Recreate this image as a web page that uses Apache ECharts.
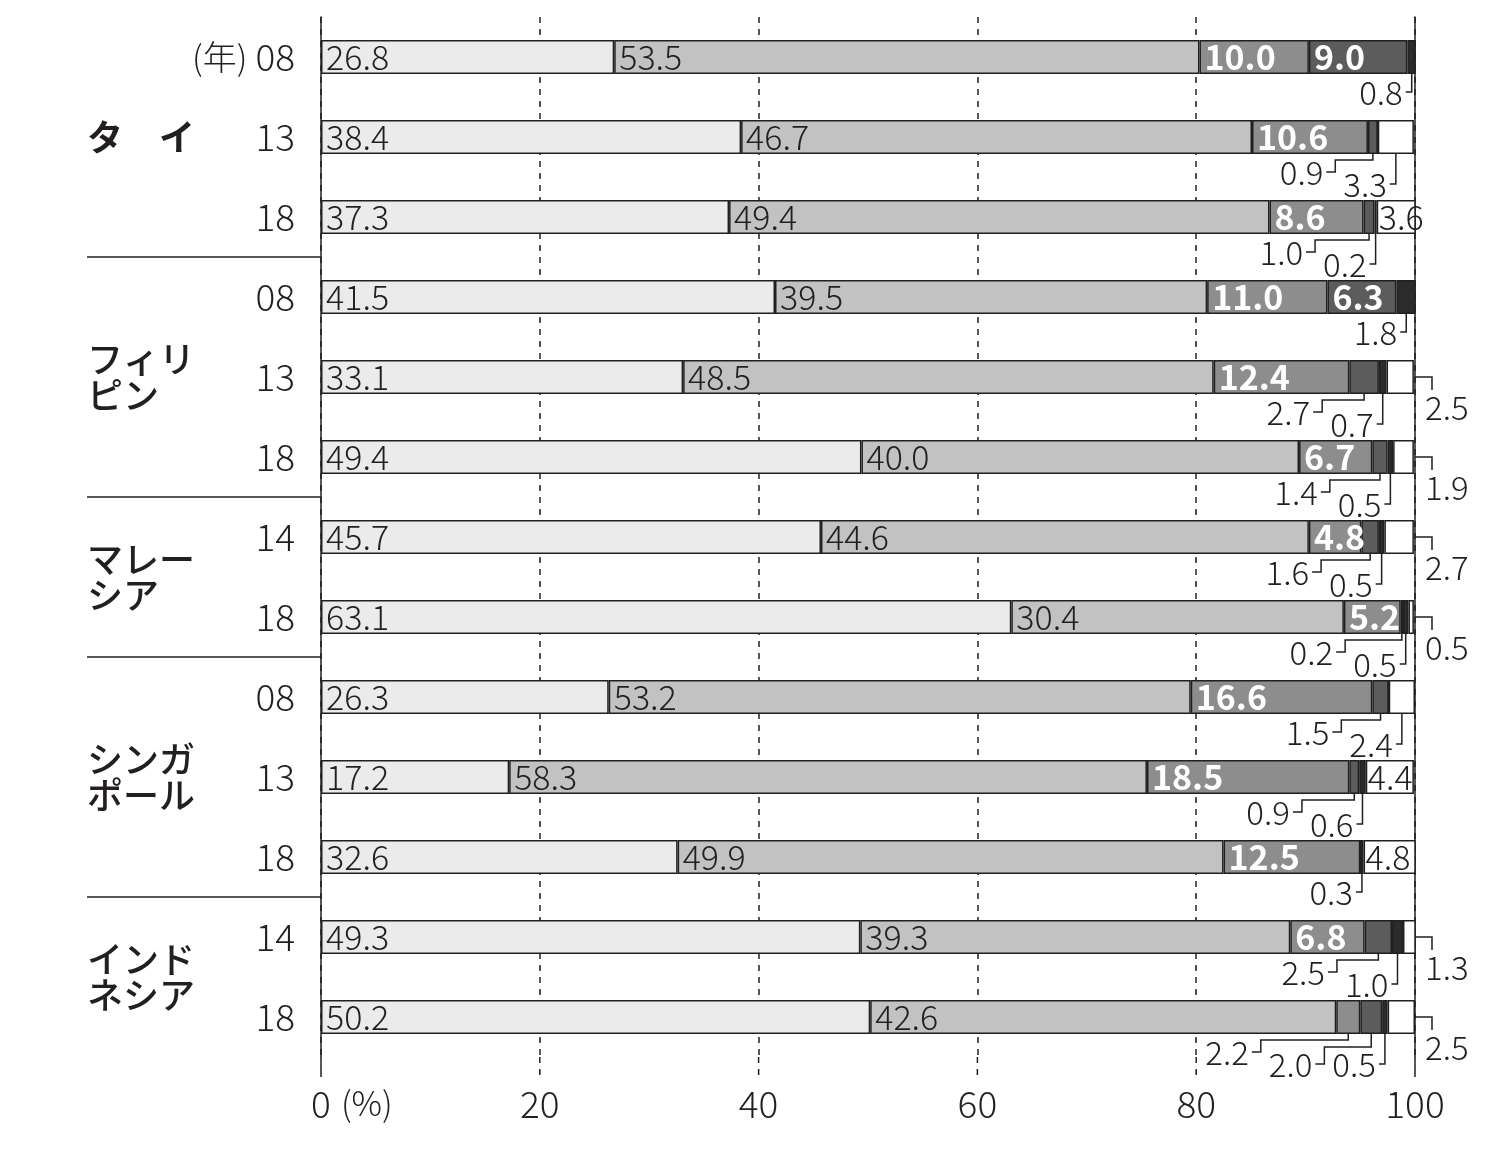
<!DOCTYPE html>
<html>
<head>
<meta charset="utf-8">
<script src="https://cdn.jsdelivr.net/npm/echarts@6/dist/echarts.min.js"></script>
<style>
html, body { margin: 0; padding: 0; background: #fff; }
#chart { width: 1500px; height: 1176px; }
</style>
</head>
<body>
<div id="chart"></div>
<script>
// 年（各行）と国グループ
var years = ['08', '13', '18', '08', '13', '18', '14', '18', '08', '13', '18', '14', '18'];
var countries = ['タ　イ', 'フィリ\nピン', 'マレー\nシア', 'シンガ\nポール', 'インド\nネシア'];
var countryRows = [[0, 2], [3, 5], [6, 7], [8, 10], [11, 12]];

// 構成比 (%)、左から順に積み上げ
var seg1 = [26.8, 38.4, 37.3, 41.5, 33.1, 49.4, 45.7, 63.1, 26.3, 17.2, 32.6, 49.3, 50.2];
var seg2 = [53.5, 46.7, 49.4, 39.5, 48.5, 40.0, 44.6, 30.4, 53.2, 58.3, 49.9, 39.3, 42.6];
var seg3 = [10.0, 10.6, 8.6, 11.0, 12.4, 6.7, 4.8, 5.2, 16.6, 18.5, 12.5, 6.8, 2.2];
var seg4 = [9.0, 0.9, 1.0, 6.3, 2.7, 1.4, 1.6, 0.2, 1.5, 0.9, 0, 2.5, 2.0];
var seg5 = [0.8, 0, 0.2, 1.8, 0.7, 0.5, 0.5, 0.5, 0, 0.6, 0.3, 1.0, 0.5];
var seg6 = [0, 3.3, 3.6, 0, 2.5, 1.9, 2.7, 0.5, 2.4, 4.4, 4.8, 1.3, 2.5];

var xTicks = [0, 20, 40, 60, 80, 100];

var segments = [seg1, seg2, seg3, seg4, seg5, seg6];
var colors = ['#ebebeb', '#c2c2c2', '#8d8d8d', '#5c5c5c', '#2b2b2b', '#ffffff'];
var INK = '#231f20';
var FONT = '"Noto Sans CJK JP", "Noto Sans", sans-serif';
var BAR_W = 34;
var NUM_SIZE = 34;
var CALLOUT_SIZE = 33;
var UNIT_SIZE = 34;

var ctx = document.createElement('canvas').getContext('2d');
function textWidth(s, size, weight) {
    ctx.font = (weight || 300) + ' ' + size + 'px ' + FONT;
    return ctx.measureText(s).width;
}

function calloutText(txt, x, y, align) {
    return {
        type: 'text',
        style: {
            text: txt, x: x, y: y, align: align, verticalAlign: 'middle',
            fontSize: CALLOUT_SIZE, fontFamily: FONT, fontWeight: 300, fill: INK
        }
    };
}
function leader(points) {
    return {
        type: 'polyline',
        shape: {points: points},
        style: {stroke: INK, lineWidth: 1.5, fill: null}
    };
}

// 小さい値のラベル（引き出し線つき）
function renderCallouts(params, api) {
    var r = params.dataIndex;
    var cy = api.coord([0, r])[1];
    var bottom = cy + BAR_W / 2;
    var xEnd = api.coord([100, r])[0];
    var children = [];
    var below = [];
    var cum = 0;
    for (var k = 0; k < segments.length; k++) {
        var v = segments[k][r], start = cum;
        cum += v;
        if (k < 2 || v === 0 || v >= 3.5) continue;
        if (k === 5 && seg5[r] > 0) {
            children.push(leader([[xEnd, cy], [xEnd + 17, cy], [xEnd + 17, cy + 13]]));
            children.push(calloutText(v.toFixed(1), xEnd + 10, cy + 30, 'left'));
        } else {
            below.push({txt: v.toFixed(1), x: api.coord([start + v / 2, r])[0]});
        }
    }
    below.reverse();
    var n = below.length, prevLeft = 0;
    below.forEach(function (b, i) {
        var right = i === 0 ? b.x - 9 : prevLeft - 20;
        var level1 = n === 1 || i === n - 1;
        var ty = bottom + (level1 ? 18 : 30);
        if (i === 0) {
            children.push(leader([[right + 3, ty], [b.x, ty], [b.x, bottom]]));
        } else {
            var sx = right + 12, sy = bottom + (level1 ? 6 : 13);
            children.push(leader([[right + 3, ty], [sx, ty], [sx, sy], [b.x, sy], [b.x, bottom]]));
        }
        children.push(calloutText(b.txt, right, ty, 'right'));
        prevLeft = right - textWidth(b.txt, CALLOUT_SIZE);
    });
    return {type: 'group', children: children};
}

// 国名と区切り線
function renderCountries(params, api) {
    var i = params.dataIndex;
    var g = countryRows[i];
    var p1 = api.coord([0, g[0]]), p2 = api.coord([0, g[1]]);
    var band = api.coord([0, 1])[1] - api.coord([0, 0])[1];
    var axisX = p1[0], leftX = axisX - 234;
    var children = [{
        type: 'text',
        style: {
            text: countries[i], x: leftX, y: (p1[1] + p2[1]) / 2,
            align: 'left', verticalAlign: 'middle',
            fontSize: 36, lineHeight: 36, fontFamily: FONT,
            fontWeight: i === 0 ? 'bold' : 500, fill: INK
        }
    }];
    if (i < countryRows.length - 1) {
        var ly = p2[1] + band / 2;
        children.push({
            type: 'line',
            shape: {x1: leftX, y1: ly, x2: axisX, y2: ly},
            style: {stroke: INK, lineWidth: 1.5}
        });
    }
    return {type: 'group', children: children};
}

// 目盛線を下へ少し延長
function renderExtension(params, api) {
    var last = years.length - 1;
    var band = api.coord([0, 1])[1] - api.coord([0, 0])[1];
    var v = api.value(0);
    var p = api.coord([v, last]);
    var y0 = p[1] + band / 2;
    return {
        type: 'line',
        shape: {x1: p[0], y1: y0, x2: p[0], y2: y0 + 20},
        style: {stroke: INK, lineWidth: 1.5, lineDash: (v === 0 || v === 100) ? null : [6, 6]}
    };
}

var chart = echarts.init(document.getElementById('chart'));

var barSeries = segments.map(function (vals, k) {
    var onDark = k === 2 || k === 3;
    return {
        type: 'bar',
        name: 'seg' + (k + 1),
        stack: 'total',
        barWidth: BAR_W,
        silent: true,
        itemStyle: {color: colors[k], borderColor: INK, borderWidth: 1.5},
        label: {
            show: true,
            position: 'insideLeft',
            distance: k === 5 ? 2 : 5,
            fontFamily: FONT,
            fontSize: NUM_SIZE,
            fontWeight: onDark ? 'bold' : 300,
            color: onDark ? '#fff' : INK,
            formatter: function (p) {
                return p.value >= 3.5 ? p.value.toFixed(1) : '';
            }
        },
        data: vals
    };
});

var pctW = textWidth('(%)', UNIT_SIZE) + 10;

chart.setOption({
    animation: false,
    grid: {left: 321, top: 17, width: 1094, height: 1040},
    xAxis: {
        type: 'value',
        min: 0,
        max: 100,
        interval: 20,
        axisLine: {show: false},
        axisTick: {show: false},
        splitLine: {lineStyle: {color: INK, width: 1.5, type: [6, 6]}},
        axisLabel: {
            fontSize: 37, fontFamily: FONT, fontWeight: 300, color: INK, margin: 28,
            showMaxLabel: true,
            formatter: function (v) {
                return v === 0 ? '{pad|}0{u|(%)}' : String(v);
            },
            rich: {
                pad: {width: pctW},
                u: {fontSize: UNIT_SIZE, fontFamily: FONT, fontWeight: 300, color: INK, padding: [0, 0, 0, 10]}
            }
        }
    },
    yAxis: [{
        type: 'category',
        data: years,
        inverse: true,
        axisLine: {lineStyle: {color: INK, width: 1.5}},
        axisTick: {show: false},
        axisLabel: {
            interval: 0,
            fontSize: 37, fontFamily: FONT, fontWeight: 300, color: INK, margin: 26,
            formatter: function (v, i) {
                return i === 0 ? '{u|(年)}' + v : v;
            },
            rich: {
                u: {fontSize: UNIT_SIZE, fontFamily: FONT, fontWeight: 300, color: INK, padding: [0, 8, 0, 0]}
            }
        }
    }, {
        type: 'category',
        data: years,
        inverse: true,
        position: 'right',
        axisLine: {lineStyle: {color: INK, width: 1.5}},
        axisTick: {show: false},
        axisLabel: {show: false}
    }],
    series: barSeries.concat([{
        type: 'custom',
        name: 'callouts',
        clip: false,
        silent: true,
        z: 5,
        renderItem: renderCallouts,
        data: years.map(function (y, i) { return [0, i]; })
    }, {
        type: 'custom',
        name: 'countries',
        clip: false,
        silent: true,
        renderItem: renderCountries,
        data: countryRows.map(function (g) { return [0, g[0]]; })
    }, {
        type: 'custom',
        name: 'extension',
        clip: false,
        silent: true,
        renderItem: renderExtension,
        data: xTicks.map(function (t) { return [t, years.length - 1]; })
    }])
});
</script>
</body>
</html>
